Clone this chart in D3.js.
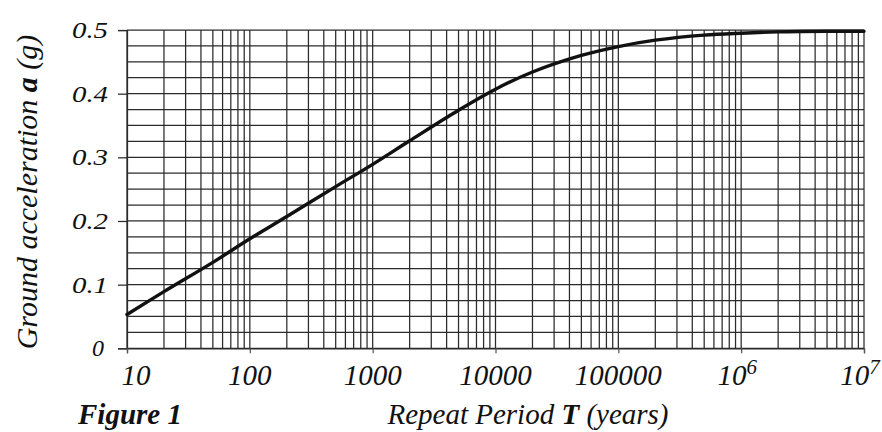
<!DOCTYPE html>
<html>
<head>
<meta charset="utf-8">
<script src="https://cdn.jsdelivr.net/npm/d3@7/dist/d3.min.js"></script>
<style>
  html, body { margin: 0; padding: 0; background: #fff; }
  svg { display: block; }
  text { font-family: "Liberation Serif", "Times New Roman", serif; font-style: italic; fill: #111; }
</style>
</head>
<body>
<svg id="chart" width="882" height="432"></svg>
<script>
// ---- data ----
const periods = [10, 20, 50, 100, 200, 500, 1000, 2000, 5000, 10000, 20000, 50000, 1e5, 2e5, 5e5, 1e6, 2e6, 5e6, 1e7];
const accel   = [0.053, 0.089, 0.135, 0.172, 0.207, 0.254, 0.289, 0.326, 0.374, 0.407, 0.434, 0.460, 0.474, 0.484, 0.492, 0.495, 0.497, 0.498, 0.498];
const xTickValues = [10, 100, 1000, 10000, 100000, 1e6, 1e7];
const xTickLabels = ["10", "100", "1000", "10000", "100000", "10^6", "10^7"];
const yTickValues = [0, 0.1, 0.2, 0.3, 0.4, 0.5];
const yTickLabels = ["0", "0.1", "0.2", "0.3", "0.4", "0.5"];
const yGridStep = 0.025;

// ---- layout ----
const svg = d3.select("#chart");
const mLeft = 127, mRight = 864, mTop = 30, mBottom = 348.3;

const x = d3.scaleLog().domain([10, 1e7]).range([mLeft, mRight]);
const y = d3.scaleLinear().domain([0, 0.5]).range([mBottom, mTop]);

// grid: vertical lines at 1..9 x each decade
const vGrid = [];
for (let e = 1; e < 7; e++) {
  for (let m = 1; m <= 9; m++) vGrid.push(m * Math.pow(10, e));
}
vGrid.push(1e7);
const hGrid = d3.range(0, 0.5 + 1e-9, yGridStep);

const gridColor = "#2b2b2b";
const grid = svg.append("g");
grid.selectAll("line.v").data(vGrid).join("line")
  .attr("x1", d => x(d)).attr("x2", d => x(d))
  .attr("y1", mTop).attr("y2", mBottom)
  .attr("stroke", gridColor).attr("stroke-width", 1.25);
grid.selectAll("line.h").data(hGrid).join("line")
  .attr("x1", mLeft).attr("x2", mRight)
  .attr("y1", d => y(d)).attr("y2", d => y(d))
  .attr("stroke", gridColor).attr("stroke-width", 1.25);

// axes (ticks only; labels drawn below in the figure's style)
const yAxis = d3.axisLeft(y).tickValues(yTickValues).tickSize(9).tickFormat("");
const gy = svg.append("g").attr("transform", `translate(${mLeft},0)`).call(yAxis);
gy.select(".domain").attr("stroke", gridColor).attr("stroke-width", 1.25);
gy.selectAll(".tick line").attr("stroke", gridColor).attr("stroke-width", 1.25);

const xAxis = d3.axisBottom(x).tickValues(xTickValues).tickSize(5).tickFormat("");
const gx = svg.append("g").attr("transform", `translate(0,${mBottom})`).call(xAxis);
gx.select(".domain").attr("stroke", gridColor).attr("stroke-width", 1.25);
gx.selectAll(".tick line").attr("stroke", "#555").attr("stroke-width", 1.25);

// y tick labels
svg.append("g").selectAll("text").data(yTickValues).join("text")
  .attr("x", (d, i) => yTickLabels[i].length === 1 ? 104 : 108)
  .attr("y", d => y(d) + 8)
  .attr("text-anchor", "end")
  .attr("font-size", 24)
  .each(function (d, i) {
    const t = d3.select(this).text(yTickLabels[i]);
    if (yTickLabels[i].length > 1) t.attr("textLength", 36).attr("lengthAdjust", "spacingAndGlyphs");
  });

// x tick labels
svg.append("g").selectAll("text").data(xTickValues).join("text")
  .attr("x", (d, i) => x(d) + (i === 0 ? 9 : 0) + (xTickLabels[i].includes("^") ? -4 : 0))
  .attr("y", 385)
  .attr("text-anchor", "middle")
  .attr("font-size", 29)
  .each(function (d, i) {
    const parts = xTickLabels[i].split("^");
    const t = d3.select(this);
    t.append("tspan").text(parts[0]);
    if (parts.length > 1) {
      t.append("tspan").attr("dy", -11).attr("font-size", 21).text(parts[1]);
    }
  });

// y axis title
const yt = svg.append("text")
  .attr("transform", "translate(37,192) rotate(-90)")
  .attr("text-anchor", "middle")
  .attr("font-size", 30);
yt.append("tspan").text("Ground acceleration ");
yt.append("tspan").attr("font-weight", "bold").text("a");
yt.append("tspan").text(" (g)");

// x axis title
const xt = svg.append("text")
  .attr("x", 528).attr("y", 424)
  .attr("text-anchor", "middle")
  .attr("font-size", 29);
xt.append("tspan").text("Repeat Period ");
xt.append("tspan").attr("font-weight", "bold").text("T");
xt.append("tspan").text(" (years)");

// figure caption
svg.append("text")
  .attr("x", 78).attr("y", 424)
  .attr("font-size", 29)
  .attr("font-weight", "bold")
  .text("Figure 1");

// curve
const line = d3.line()
  .x((d, i) => x(periods[i]))
  .y((d, i) => y(accel[i]))
  .curve(d3.curveCatmullRom.alpha(0.5));
svg.append("path")
  .datum(accel)
  .attr("d", line)
  .attr("fill", "none")
  .attr("stroke", "#111")
  .attr("stroke-width", 3.4)
  .attr("stroke-linecap", "round");
</script>
</body>
</html>
